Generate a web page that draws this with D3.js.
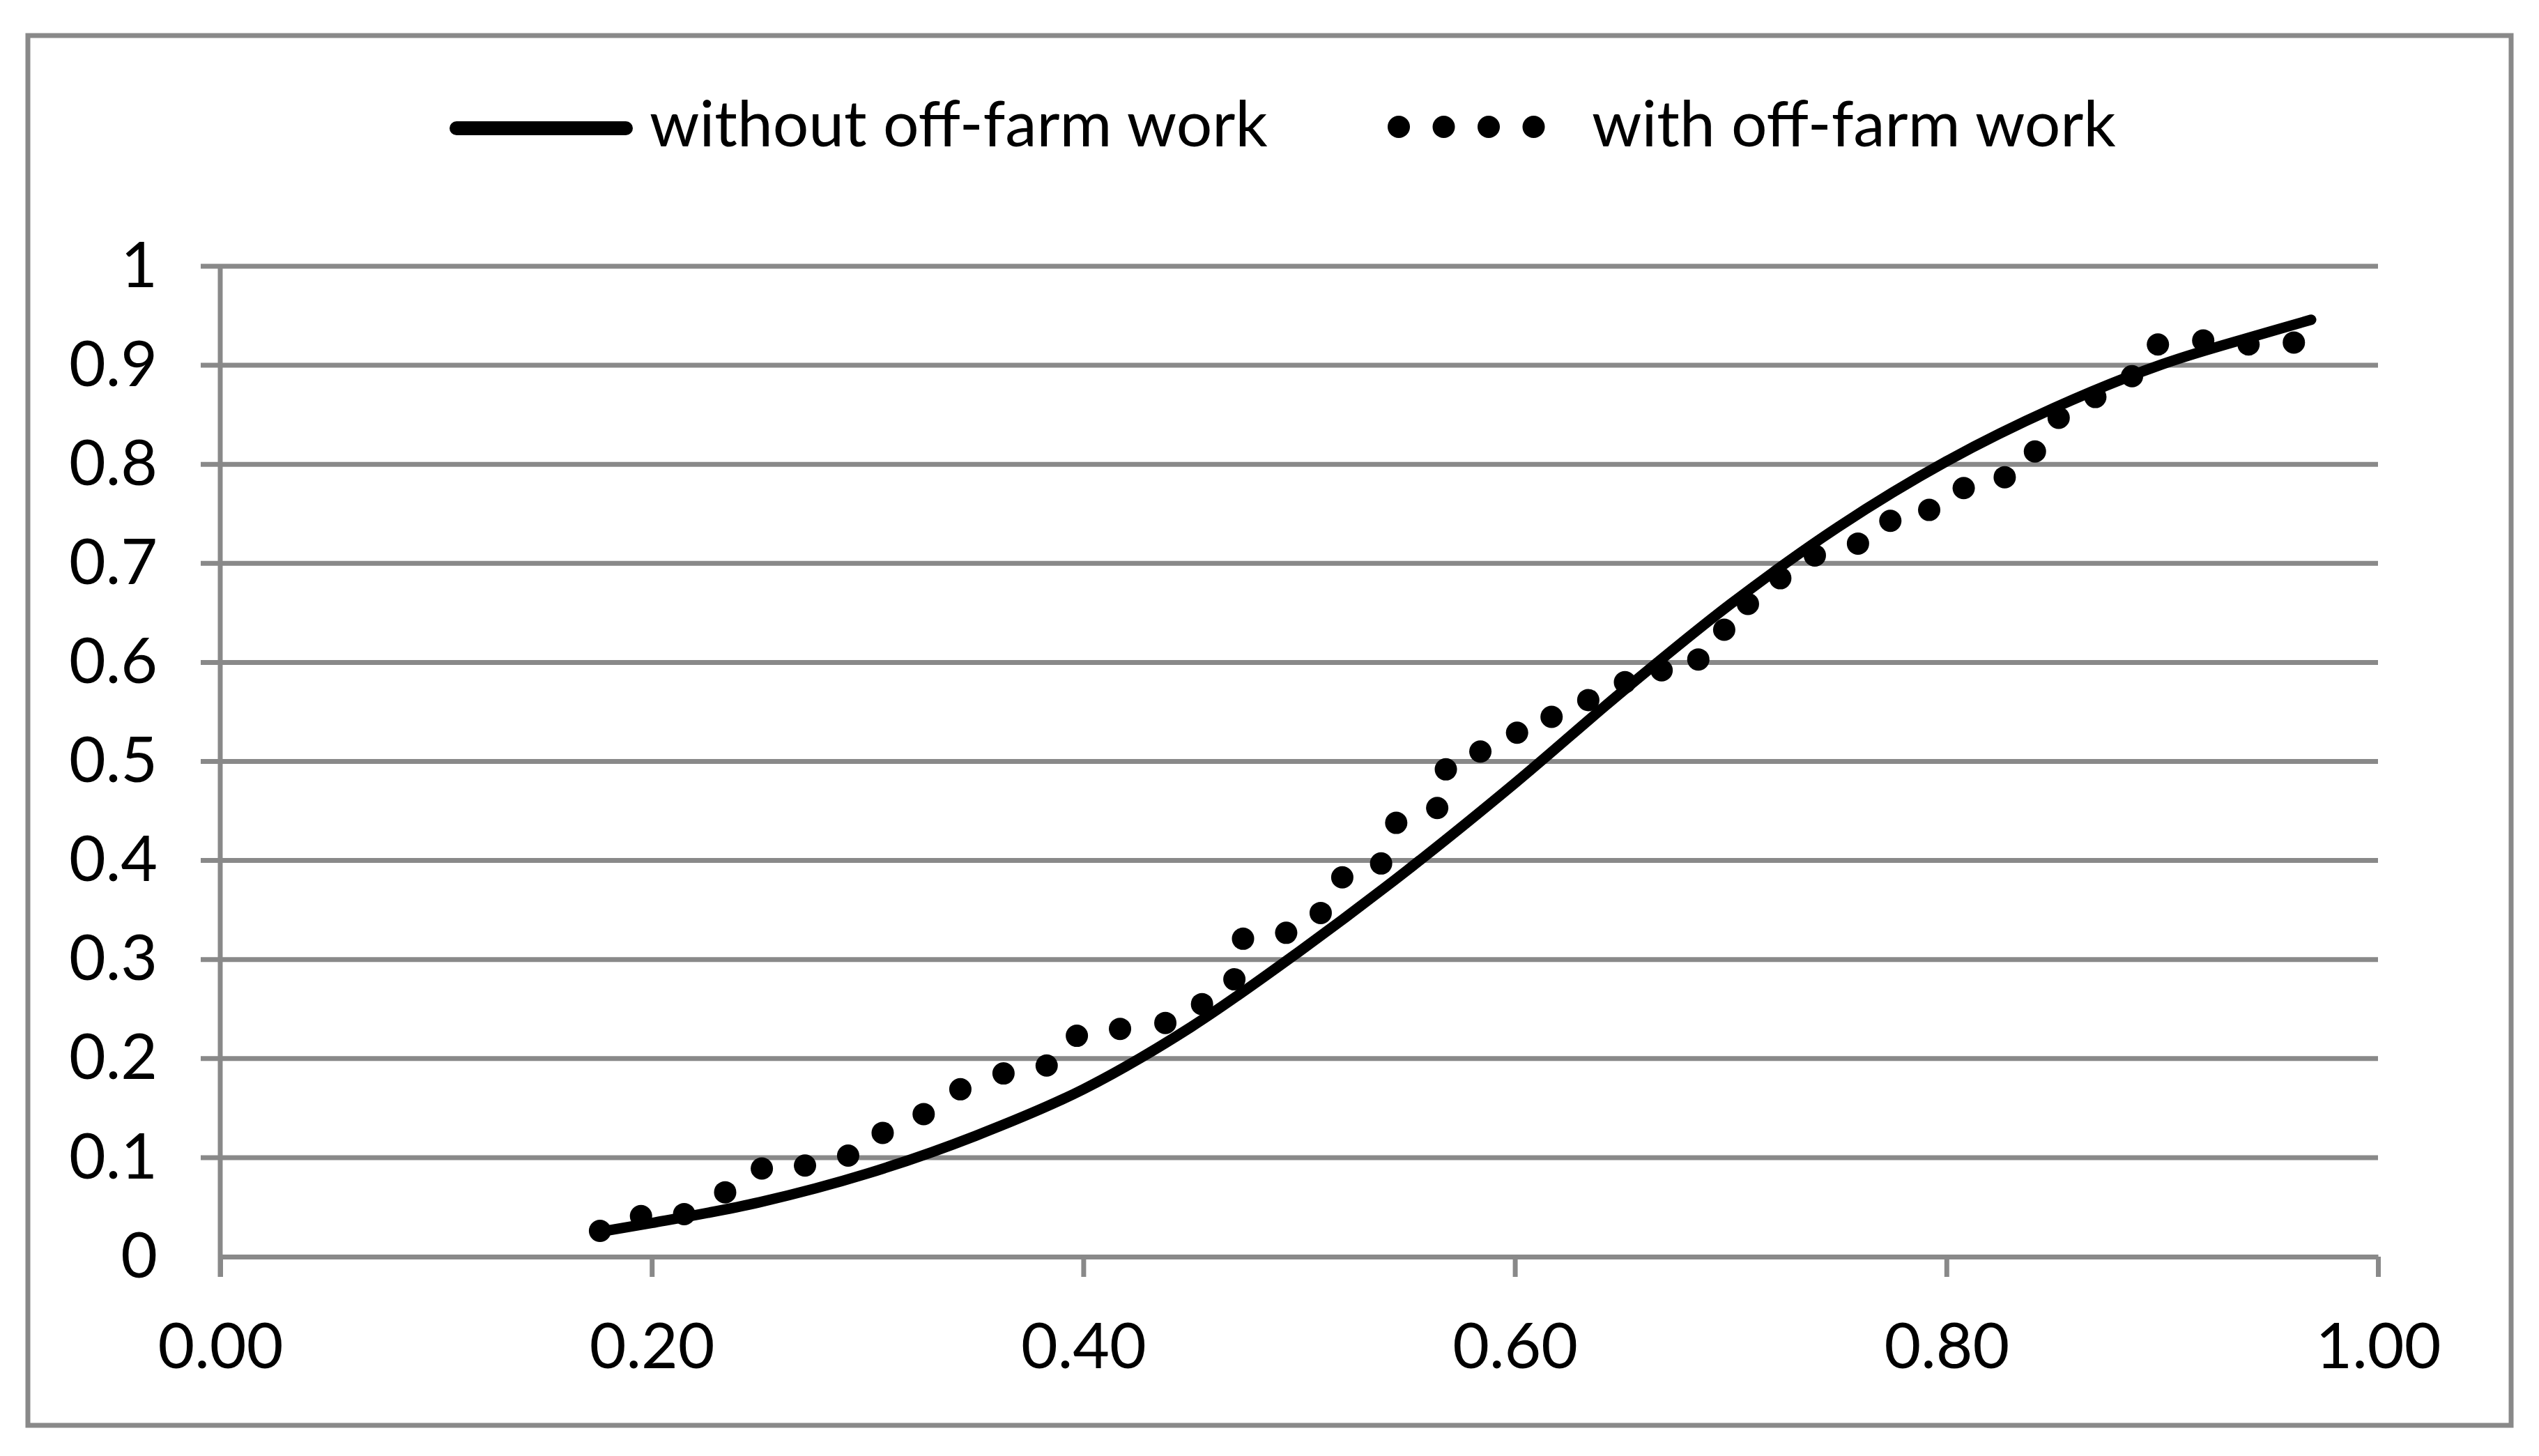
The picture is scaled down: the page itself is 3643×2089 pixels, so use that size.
<!DOCTYPE html>
<html>
<head>
<meta charset="utf-8">
<script src="https://d3js.org/d3.v7.min.js"></script>
<style>
  body { margin: 0; background: white; }
  svg { display: block; }
  .tick text { font-family: Lato, "Open Sans", sans-serif; fill: #000; }
  .legend text { font-family: Lato, "Open Sans", sans-serif; fill: #000; }
</style>
</head>
<body>
<svg width="3643" height="2089"></svg>
<script>
// tick values
var xTicks = [0, 0.2, 0.4, 0.6, 0.8, 1.0];
var yTicks = [0, 0.1, 0.2, 0.3, 0.4, 0.5, 0.6, 0.7, 0.8, 0.9, 1];

// series names
var seriesNames = ["without off-farm work", "with off-farm work"];

// solid line: without off-farm work
var withoutX = [0.176, 0.20, 0.25, 0.30, 0.35, 0.40, 0.45, 0.50, 0.55, 0.60,
                0.65, 0.70, 0.75, 0.80, 0.85, 0.90, 0.95, 0.969];
var withoutY = [0.025, 0.034, 0.055, 0.084, 0.122, 0.169, 0.232, 0.308, 0.390, 0.478,
                0.571, 0.659, 0.737, 0.803, 0.857, 0.901, 0.934, 0.946];

// dotted series: with off-farm work
var withX = [0.176, 0.195, 0.215, 0.234, 0.251, 0.271, 0.291, 0.307, 0.326, 0.343,
             0.363, 0.383, 0.397, 0.417, 0.438, 0.455, 0.470, 0.474, 0.494, 0.510,
             0.520, 0.538, 0.545, 0.564, 0.568, 0.584, 0.601, 0.617, 0.634, 0.651,
             0.668, 0.685, 0.697, 0.708, 0.723, 0.739, 0.759, 0.774, 0.792, 0.808,
             0.827, 0.841, 0.852, 0.869, 0.886, 0.898, 0.919, 0.940, 0.961];
var withY = [0.026, 0.041, 0.043, 0.065, 0.089, 0.092, 0.102, 0.125, 0.144, 0.169,
             0.185, 0.193, 0.223, 0.230, 0.236, 0.255, 0.280, 0.321, 0.327, 0.347,
             0.383, 0.397, 0.438, 0.453, 0.492, 0.510, 0.529, 0.545, 0.562, 0.580,
             0.592, 0.603, 0.633, 0.659, 0.685, 0.708, 0.720, 0.743, 0.754, 0.776,
             0.787, 0.813, 0.847, 0.868, 0.889, 0.921, 0.925, 0.921, 0.923];

var grey = "#898989";
var svg = d3.select("svg");

var x = d3.scaleLinear().domain([0, 1]).range([316, 3412]);
var y = d3.scaleLinear().domain([0, 1]).range([1803, 382]);

// outer chart border
svg.append("rect")
    .attr("x", 40).attr("y", 51)
    .attr("width", 3563).attr("height", 1994)
    .attr("fill", "white")
    .attr("stroke", grey)
    .attr("stroke-width", 7);

// horizontal gridlines (they stick out left of the axis like ticks)
svg.append("g").selectAll("line")
    .data(yTicks.slice(1))
    .enter().append("line")
    .attr("x1", x(0) - 28)
    .attr("x2", x(1))
    .attr("y1", function(d) { return y(d); })
    .attr("y2", function(d) { return y(d); })
    .attr("stroke", grey)
    .attr("stroke-width", 7);

// y axis labels
var yAxis = svg.append("g")
    .attr("transform", "translate(" + x(0) + ",0)")
    .call(d3.axisLeft(y).tickValues(yTicks).tickSize(0).tickPadding(90)
        .tickFormat(function(d) { return d === 0 ? "0" : d === 1 ? "1" : d3.format(".1f")(d); }));
yAxis.select(".domain").remove();
yAxis.selectAll("text").attr("font-size", 91).attr("font-family", "Lato, sans-serif");

// y axis line
svg.append("line")
    .attr("x1", x(0)).attr("x2", x(0))
    .attr("y1", y(1)).attr("y2", y(0) + 29)
    .attr("stroke", grey)
    .attr("stroke-width", 7);

// x axis
var xAxis = svg.append("g")
    .attr("transform", "translate(0," + y(0) + ")")
    .call(d3.axisBottom(x).tickValues(xTicks).tickSize(29).tickSizeOuter(0)
        .tickFormat(d3.format(".2f")));
xAxis.select(".domain")
    .attr("stroke", grey)
    .attr("stroke-width", 7);
xAxis.selectAll(".tick line")
    .attr("stroke", grey)
    .attr("stroke-width", 7);
xAxis.selectAll("text")
    .attr("y", 160)
    .attr("dy", null)
    .attr("font-size", 91)
    .attr("font-family", "Lato, sans-serif");

// solid curve
var lineData = withoutX.map(function(d, i) { return [d, withoutY[i]]; });
var line = d3.line()
    .x(function(d) { return x(d[0]); })
    .y(function(d) { return y(d[1]); })
    .curve(d3.curveMonotoneX);

svg.append("path")
    .datum(lineData)
    .attr("d", line)
    .attr("fill", "none")
    .attr("stroke", "black")
    .attr("stroke-width", 15)
    .attr("stroke-linecap", "round")
    .attr("stroke-linejoin", "round");

// dots
var dotData = withX.map(function(d, i) { return [d, withY[i]]; });
svg.append("g").selectAll("circle")
    .data(dotData)
    .enter().append("circle")
    .attr("cx", function(d) { return x(d[0]); })
    .attr("cy", function(d) { return y(d[1]); })
    .attr("r", 16)
    .attr("fill", "black");

// legend
var legend = svg.append("g").attr("class", "legend");
legend.append("line")
    .attr("x1", 655).attr("x2", 898)
    .attr("y1", 184).attr("y2", 184)
    .attr("stroke", "black")
    .attr("stroke-width", 20)
    .attr("stroke-linecap", "round");
legend.append("text")
    .attr("x", 932).attr("y", 210)
    .attr("font-size", 91)
    .text(seriesNames[0]);
legend.selectAll("circle")
    .data([0, 1, 2, 3])
    .enter().append("circle")
    .attr("cx", function(d) { return 2007 + d * 64.5; })
    .attr("cy", 182)
    .attr("r", 16)
    .attr("fill", "black");
legend.append("text")
    .attr("x", 2284).attr("y", 210)
    .attr("font-size", 91)
    .text(seriesNames[1]);
</script>
</body>
</html>
